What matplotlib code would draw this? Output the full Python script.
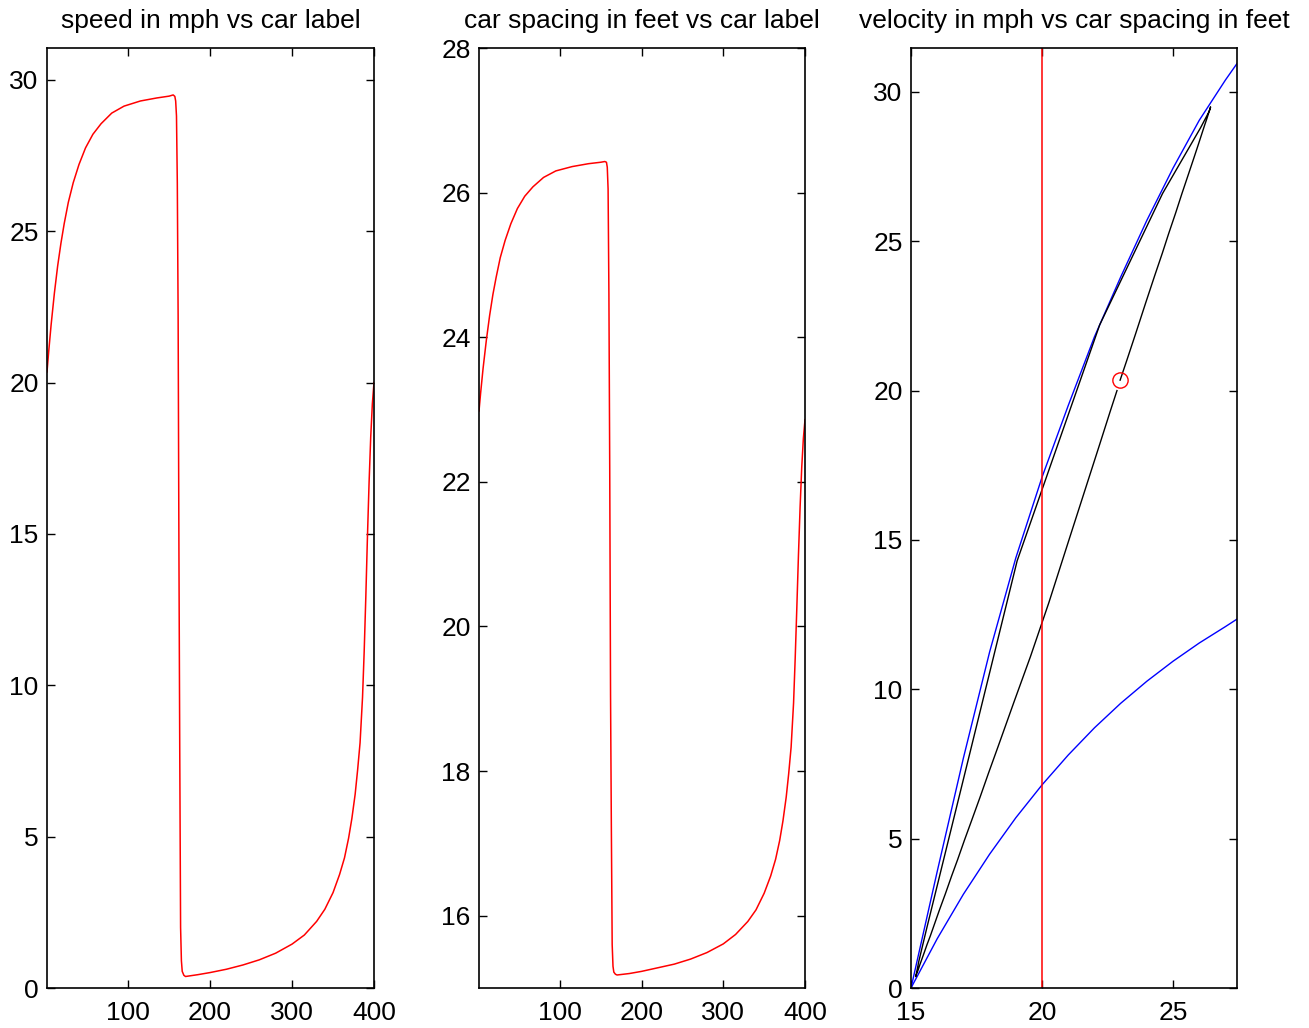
import matplotlib
matplotlib.use("Agg")
import matplotlib.pyplot as plt

plt.rcParams['font.family'] = ['Liberation Sans', 'DejaVu Sans']

# ---- data ----
car_label = [1, 3, 6, 10, 14, 18, 22, 27, 33, 40, 48, 57, 67, 80, 95, 115, 135, 150, 155,
             157, 158, 159, 160, 161, 162, 163, 164, 165, 166, 168,
             170, 185, 200, 220, 240, 260, 280, 300, 315, 330, 340, 350, 358, 364,
             369, 373, 377, 380, 383, 386, 388, 390, 392, 394, 396, 398, 400]
speed_mph = [20.35, 21.0, 21.9, 22.95, 23.85, 24.6, 25.25, 25.95, 26.6, 27.2, 27.75,
             28.2, 28.55, 28.9, 29.13, 29.3, 29.4, 29.46, 29.5,
             29.45, 29.3, 28.8, 26.6, 22.2, 14.3, 7.7, 2.0, 0.9, 0.55, 0.42,
             0.38, 0.44, 0.51, 0.62, 0.76, 0.93, 1.15, 1.45, 1.75, 2.2, 2.6, 3.15,
             3.75, 4.3, 4.95, 5.6, 6.4, 7.2, 8.1, 9.6, 11.1, 12.9, 14.9, 16.7,
             18.2, 19.3, 20.0]
spacing_ft = [22.98, 23.23, 23.57, 23.96, 24.30, 24.59, 24.83, 25.10, 25.34, 25.57,
              25.78, 25.95, 26.08, 26.21, 26.30, 26.36, 26.40, 26.42, 26.43,
              26.42, 26.35, 26.05, 24.6, 22.2, 19.05, 17.2, 15.6, 15.3, 15.22, 15.19,
              15.18, 15.20, 15.23, 15.28, 15.33, 15.40, 15.49, 15.61, 15.74, 15.92,
              16.08, 16.31, 16.55, 16.78, 17.04, 17.31, 17.64, 17.96, 18.33, 18.94,
              19.56, 20.26, 20.99, 21.65, 22.20, 22.60, 22.86]

# equilibrium curves (panel 3)
s_curve = [15, 16, 17, 18, 19, 20, 21, 22, 23, 24, 25, 26, 27, 27.44]
v_upper = [0, 3.9, 7.7, 11.25, 14.4, 17.1, 19.5, 21.8, 23.8, 25.7, 27.45, 29.05, 30.4, 30.95]
v_lower = [0, 1.65, 3.14, 4.48, 5.70, 6.8, 7.8, 8.71, 9.53, 10.27, 10.94, 11.55, 12.1, 12.35]

ref_spacing = 20
init_spacing, init_speed = 22.98, 20.35

titles = ['speed in mph vs car label', 'car spacing in feet vs car label',
          'velocity in mph vs car spacing in feet']

W, H = 1309, 1028
fig = plt.figure(figsize=(W / 100, H / 100), dpi=100)

def add_ax(left, right, top=48, bottom=988):
    return fig.add_axes([left / W, (H - bottom) / H, (right - left) / W, (bottom - top) / H])

ax1 = add_ax(47, 374)
ax2 = add_ax(479, 805)
ax3 = add_ax(911, 1237)

fs = 19
for ax, t in zip((ax1, ax2, ax3), titles):
    ax.set_title(t, fontsize=fs, pad=14.5)
    ax.tick_params(direction='in', top=True, right=True, length=6, width=1.0,
                   labelsize=fs)
    ax.tick_params(axis='y', pad=6)
    ax.tick_params(axis='x', pad=9.5)
    for sp in ax.spines.values():
        sp.set_linewidth(1.2)

ax1.plot(car_label, speed_mph, color='red', lw=1.1)
ax1.set_xlim(1, 400)
ax1.set_ylim(0, 31.05)
ax1.set_xticks([100, 200, 300, 400])
ax1.set_yticks([0, 5, 10, 15, 20, 25, 30])

ax2.plot(car_label, spacing_ft, color='red', lw=1.1)
ax2.set_xlim(1, 400)
ax2.set_ylim(15, 28)
ax2.set_xticks([100, 200, 300, 400])
ax2.set_yticks([16, 18, 20, 22, 24, 26, 28])

ax3.plot(s_curve, v_upper, color='blue', lw=1.0)
ax3.plot(s_curve, v_lower, color='blue', lw=1.0)
ax3.plot(spacing_ft, speed_mph, color='black', lw=1.0)
ax3.axvline(ref_spacing, color='red', lw=1.1)
ax3.plot([init_spacing], [init_speed], 'o', mfc='none', mec='red', ms=11, mew=1.0)
ax3.set_xlim(15, 27.44)
ax3.set_ylim(0, 31.47)
ax3.set_xticks([15, 20, 25])
ax3.set_yticks([0, 5, 10, 15, 20, 25, 30])

fig.savefig('out.png', dpi=100)
